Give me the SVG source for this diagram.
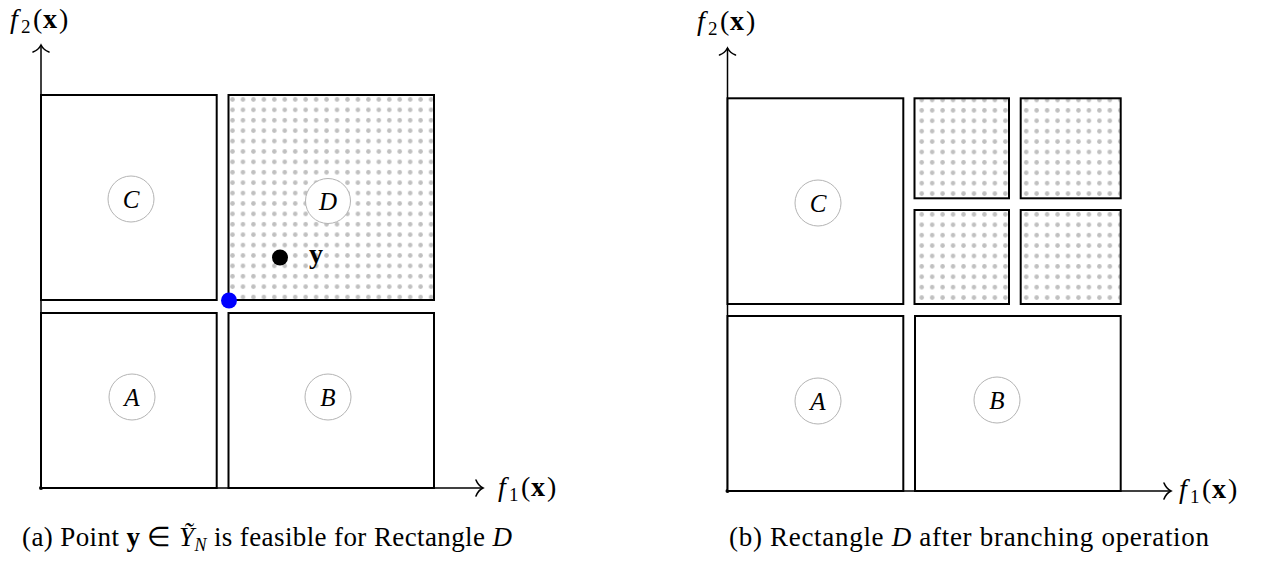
<svg xmlns="http://www.w3.org/2000/svg" width="1262" height="565" viewBox="0 0 1262 565">
<style>
.box{fill:#fff;stroke:#000;stroke-width:2}
.dl{fill:url(#dotsL);stroke:#000;stroke-width:2}
.dr{fill:url(#dotsR);stroke:#000;stroke-width:2}
.lab{fill:#fff;stroke:#b4b4b4;stroke-width:1}
.cal{font-family:"Liberation Serif",serif;font-style:italic;font-size:25px;text-anchor:middle;fill:#000}
.m{font-family:"Liberation Serif",serif;font-size:28px;fill:#000}
.cap{font-family:"Liberation Serif",serif;font-size:27px;fill:#000}
.axis{stroke:#000;stroke-width:1.5;fill:none}
</style>
<defs>
<pattern id="dotsL" patternUnits="userSpaceOnUse" x="227.3" y="94.3" width="10.45" height="10.4"><circle cx="5.225" cy="5.2" r="2.3" fill="#c0c0c0"/></pattern>
<pattern id="dotsR" patternUnits="userSpaceOnUse" x="916.5" y="94.8" width="10.45" height="10.4"><circle cx="5.225" cy="5.2" r="2.3" fill="#c0c0c0"/></pattern>
<marker id="arr" viewBox="-10 -10 20 20" markerWidth="20" markerHeight="20" refX="0" refY="0" orient="auto" markerUnits="userSpaceOnUse"><path d="M-7,-8 C-5,-3 -2,-1 0,0 C-2,1 -5,3 -7,8" fill="none" stroke="#000" stroke-width="1.6" stroke-linecap="round"/></marker>
</defs>
<rect width="1262" height="565" fill="#fff"/>
<g id="connectors">
<line class="axis" x1="41" y1="488" x2="41" y2="45" marker-end="url(#arr)"/>
<line class="axis" x1="41" y1="488" x2="483" y2="488" marker-end="url(#arr)"/>
<circle cx="41" cy="488" r="2" fill="#000"/>
<line class="axis" x1="727.5" y1="491" x2="727.5" y2="48" marker-end="url(#arr)"/>
<line class="axis" x1="727.5" y1="491" x2="1171" y2="491" marker-end="url(#arr)"/>
<circle cx="727.5" cy="491" r="2" fill="#000"/>
</g>
<g id="left-C"><rect class="box" x="41" y="95" width="175.7" height="205"/><circle class="lab" cx="131" cy="199" r="23"/><text class="cal" x="131" y="207.5">C</text></g>
<g id="left-D"><rect class="dl" x="228.5" y="95" width="205.5" height="205"/><circle class="lab" cx="328" cy="201" r="22.5"/><text class="cal" x="328" y="209.5">D</text></g>
<g id="left-A"><rect class="box" x="41" y="313" width="175.7" height="175"/><circle class="lab" cx="132" cy="397" r="23"/><text class="cal" x="132" y="405.5">A</text></g>
<g id="left-B"><rect class="box" x="228.5" y="313" width="205.5" height="175"/><circle class="lab" cx="328" cy="397" r="23"/><text class="cal" x="328" y="405.5">B</text></g>
<g id="point-y"><circle cx="280" cy="257.5" r="8" fill="#000"/><text class="m" x="309" y="263" font-weight="bold">y</text></g>
<g id="point-blue"><circle cx="229" cy="300.5" r="8" fill="#0000ff"/></g>
<g id="left-axis-labels">
<text class="m" y="28"><tspan x="10" font-style="italic">f</tspan><tspan x="21" font-size="19" dy="5">2</tspan><tspan x="33" dy="-5">(</tspan><tspan x="43" font-weight="bold">x</tspan><tspan x="59">)</tspan></text>
<text class="m" y="496"><tspan x="498" font-style="italic">f</tspan><tspan x="509" font-size="19" dy="5">1</tspan><tspan x="521" dy="-5">(</tspan><tspan x="531" font-weight="bold">x</tspan><tspan x="547">)</tspan></text>
</g>
<g id="right-C"><rect class="box" x="727.5" y="98.3" width="175.8" height="205.7"/><circle class="lab" cx="818" cy="203" r="23"/><text class="cal" x="818" y="211.5">C</text></g>
<g id="right-D1"><rect class="dr" x="914.5" y="98.3" width="94.5" height="100"/></g>
<g id="right-D2"><rect class="dr" x="1020.7" y="98.3" width="100" height="100"/></g>
<g id="right-D3"><rect class="dr" x="914.5" y="210" width="94.5" height="94"/></g>
<g id="right-D4"><rect class="dr" x="1020.7" y="210" width="100" height="94"/></g>
<g id="right-A"><rect class="box" x="727.5" y="316" width="175.8" height="175"/><circle class="lab" cx="818" cy="401" r="23"/><text class="cal" x="818" y="409.5">A</text></g>
<g id="right-B"><rect class="box" x="915" y="316" width="205.7" height="175"/><circle class="lab" cx="997" cy="400" r="23"/><text class="cal" x="997" y="408.5">B</text></g>
<g id="right-axis-labels">
<text class="m" y="30"><tspan x="697" font-style="italic">f</tspan><tspan x="708" font-size="19" dy="5">2</tspan><tspan x="720" dy="-5">(</tspan><tspan x="730" font-weight="bold">x</tspan><tspan x="746">)</tspan></text>
<text class="m" y="498"><tspan x="1179" font-style="italic">f</tspan><tspan x="1190" font-size="19" dy="5">1</tspan><tspan x="1202" dy="-5">(</tspan><tspan x="1212" font-weight="bold">x</tspan><tspan x="1228">)</tspan></text>
</g>
<g id="captions">
<text class="cap" x="22" y="546" textLength="490" lengthAdjust="spacing">(a) Point <tspan font-weight="bold">y</tspan> ∈ <tspan font-style="italic">Ỹ</tspan><tspan font-style="italic" font-size="18" dy="5">N</tspan><tspan dy="-5"> is feasible for Rectangle </tspan><tspan font-style="italic">D</tspan></text>
<text class="cap" x="729" y="546" textLength="480" lengthAdjust="spacing">(b) Rectangle <tspan font-style="italic">D</tspan> after branching operation</text>
</g>
</svg>
